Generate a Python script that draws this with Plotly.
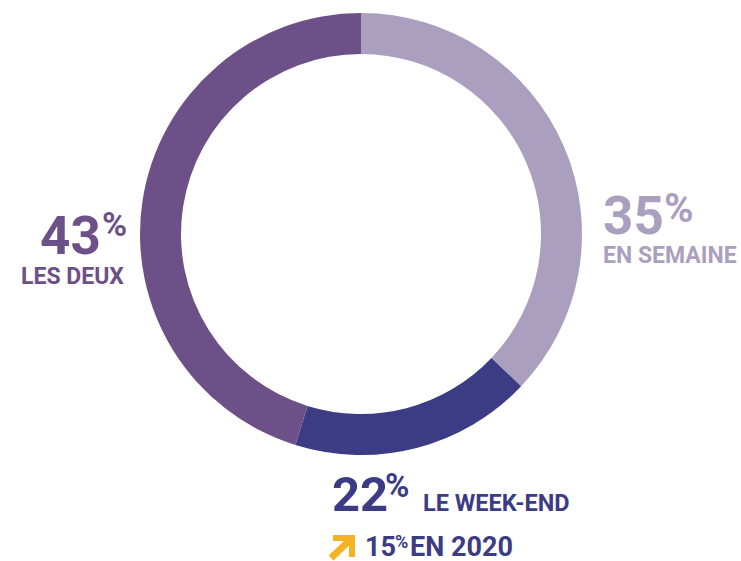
import plotly.graph_objects as go

# Data
categories = ["EN SEMAINE", "LE WEEK-END", "LES DEUX"]
label_pct = [35, 22, 43]            # printed percentages
arc_share = [37.1, 17.7, 45.2]      # arc sizes as drawn in the picture
colors = ["#ab9fc0", "#3c3c85", "#6d5088"]
prev_year = "2020"
prev_pct = 15
arrow_color = "#f5b324"

W, H = 741, 561
fig = go.Figure()

cx, cy, r = 361, 234, 221
fig.add_trace(go.Pie(
    values=arc_share, labels=categories, sort=False, direction="clockwise",
    rotation=0, hole=180 / 221, marker=dict(colors=colors, line=dict(width=0)),
    textinfo="none", hoverinfo="skip", showlegend=False,
    domain=dict(x=[(cx - r) / W, (cx + r) / W], y=[1 - (cy + r) / H, 1 - (cy - r) / H]),
))

FONT = "Roboto"

def px_x(p):
    return p / W

def px_y(p):
    return 1 - p / H

def txt(text, px, py, size, color, xanchor="left"):
    fig.add_annotation(text=f"<b>{text}</b>", x=px_x(px), y=px_y(py), xref="paper", yref="paper",
                       xanchor=xanchor, yanchor="middle", showarrow=False,
                       font=dict(family=FONT, size=size, color=color))

# LES DEUX
txt(str(label_pct[2]), 103, 236, 53, colors[2], "right")
txt("%", 100, 224, 34, colors[2], "left")
txt(categories[2], 126, 276, 23, colors[2], "right")

# EN SEMAINE
txt(str(label_pct[0]), 601, 216, 53, colors[0], "left")
txt("%", 662, 208, 40, colors[0], "left")
txt(categories[0], 601, 255, 23, colors[0], "left")

# LE WEEK-END
txt(str(label_pct[1]), 330, 494, 49, colors[1], "left")
txt("%", 383, 485, 33, colors[1], "left")
txt(categories[1], 421, 503, 23.5, colors[1], "left")

# 15% EN 2020
txt(str(prev_pct), 363, 547, 27, colors[1], "left")
txt("%", 393, 541, 18, colors[1], "left")
txt("EN " + prev_year, 408, 547, 27, colors[1], "left")

# yellow arrow (decoration)
fig.add_shape(type="rect", xref="paper", yref="paper", x0=px_x(333), x1=px_x(355),
              y0=px_y(541), y1=px_y(535), fillcolor=arrow_color, line=dict(width=0))
fig.add_shape(type="rect", xref="paper", yref="paper", x0=px_x(349), x1=px_x(355),
              y0=px_y(557), y1=px_y(535), fillcolor=arrow_color, line=dict(width=0))
fig.add_shape(type="line", xref="paper", yref="paper", x0=px_x(352), x1=px_x(331),
              y0=px_y(538), y1=px_y(558), line=dict(color=arrow_color, width=7))

fig.update_layout(width=W, height=H, margin=dict(l=0, r=0, t=0, b=0),
                  paper_bgcolor="white", plot_bgcolor="white")
fig.write_html("out.html", config={"displayModeBar": False},
               post_script="document.body.style.margin='0';document.body.style.padding='0';")
